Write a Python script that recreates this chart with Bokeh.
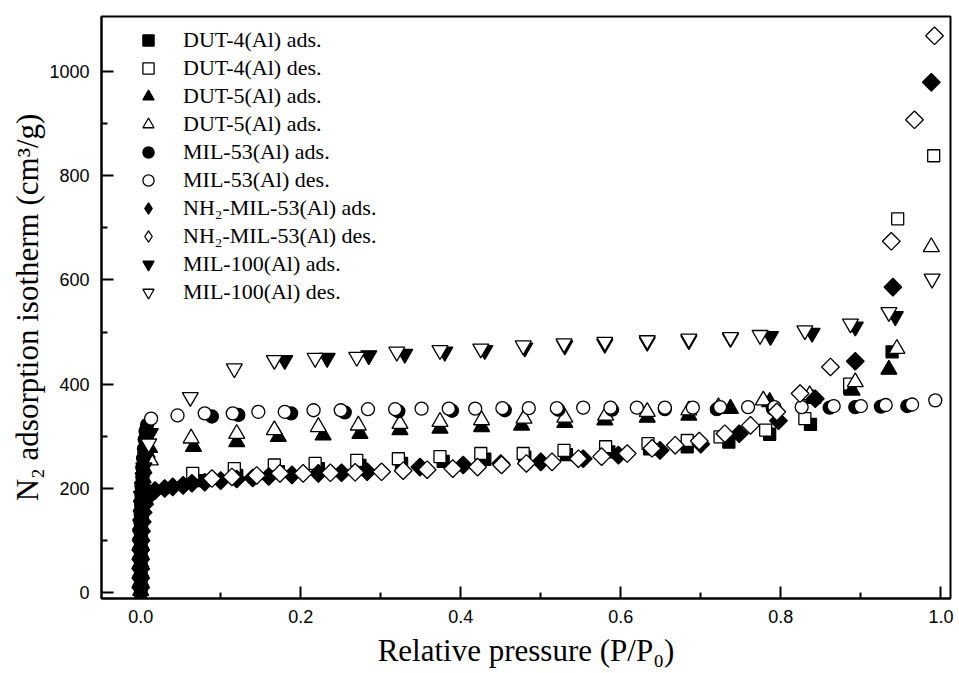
import math
from bokeh.plotting import figure
from bokeh.models import FixedTicker, PrintfTickFormatter, Legend, LegendItem, Range1d
from bokeh.embed import file_html
from bokeh.resources import INLINE

# ---------------- data ----------------
dut4_ads_x = [0.0, 0.0, 0.0, 0.0, 0.0, 0.0, 0.0005, 0.001, 0.002, 0.003, 0.005, 0.008,
              0.07, 0.12, 0.172, 0.222, 0.274, 0.326, 0.378, 0.43, 0.48, 0.532, 0.585, 0.636,
              0.683, 0.735, 0.786, 0.837, 0.886, 0.939]
dut4_ads_y = [3, 20, 38, 56, 74, 92, 110, 128, 146, 163, 178, 190,
              215, 225, 232, 238, 244, 248, 252, 256, 260, 265, 270, 276,
              280, 289, 304, 323, 393, 462]

dut4_des_x = [0.065, 0.117, 0.167, 0.218, 0.27, 0.322, 0.374, 0.425, 0.478, 0.529, 0.581, 0.634,
              0.683, 0.724, 0.781, 0.83, 0.886, 0.946, 0.991]
dut4_des_y = [229, 238, 245, 248, 254, 257, 261, 267, 267, 273, 280, 286,
              292, 299, 312, 334, 400, 717, 838]

dut5_ads_x = [0.0, 0.0, 0.0, 0.0, 0.0, 0.0, 0.0, 0.0, 0.0005, 0.001, 0.001, 0.002, 0.003, 0.004,
              0.006, 0.008, 0.011,
              0.066, 0.12, 0.172, 0.228, 0.274, 0.324, 0.374, 0.426, 0.476, 0.53, 0.58, 0.633,
              0.685, 0.737, 0.786, 0.84, 0.889, 0.935]
dut5_ads_y = [4, 22, 40, 58, 76, 94, 112, 130, 148, 166, 184, 202, 220, 238,
              255, 268, 278,
              280, 289, 299, 302, 305, 312, 315, 318, 321, 326, 331, 336,
              340, 353, 366, 372, 388, 428]

dut5_des_x = [0.012, 0.063, 0.12, 0.167, 0.222, 0.272, 0.324, 0.374, 0.426, 0.479, 0.53, 0.581,
              0.633, 0.685, 0.722, 0.778, 0.836, 0.893, 0.945, 0.988]
dut5_des_y = [254, 296, 305, 312, 318, 321, 324, 328, 331, 334, 336, 340,
              347, 350, 356, 369, 379, 404, 468, 663]

mil53_ads_x = [0.0, 0.0, 0.0, 0.0, 0.0, 0.0, 0.0, 0.0, 0.0, 0.0005, 0.001, 0.001, 0.002, 0.002,
               0.003, 0.004, 0.005, 0.006, 0.008,
               0.089, 0.122, 0.188, 0.255, 0.322, 0.389, 0.455, 0.522, 0.589, 0.655, 0.72,
               0.79, 0.861, 0.893, 0.925, 0.958]
mil53_ads_y = [6, 24, 42, 60, 78, 96, 114, 132, 150, 168, 186, 204, 222, 240,
               258, 276, 294, 310, 322,
               338, 341, 344, 346, 348, 349, 350, 351, 351, 352, 352,
               353, 355, 356, 357, 358]

mil53_des_x = [0.013, 0.046, 0.08, 0.115, 0.147, 0.18, 0.216, 0.25, 0.284, 0.318, 0.351, 0.385,
               0.418, 0.452, 0.485, 0.52, 0.553, 0.587, 0.62, 0.655, 0.69, 0.724, 0.759, 0.792,
               0.826, 0.866, 0.9, 0.931, 0.964, 0.993]
mil53_des_y = [334, 340, 344, 344, 347, 347, 350, 350, 352, 352, 353, 353,
               353, 354, 354, 354, 355, 355, 355, 355, 355, 356, 356, 356,
               356, 358, 358, 360, 361, 369]

nh2_ads_x = [0.0, 0.0, 0.0, 0.0, 0.0, 0.0005, 0.001, 0.002, 0.003, 0.005, 0.008, 0.012,
             0.018, 0.03, 0.04, 0.053, 0.064, 0.08, 0.1, 0.12, 0.14, 0.16, 0.189, 0.222,
             0.251, 0.283, 0.349, 0.403, 0.45, 0.5, 0.553, 0.597, 0.649, 0.7, 0.748, 0.797,
             0.843, 0.893, 0.94, 0.988]
nh2_ads_y = [10, 28, 46, 64, 82, 100, 118, 136, 154, 170, 182, 190,
             196, 200, 203, 206, 210, 212, 215, 218, 220, 223, 226, 229,
             230, 232, 241, 245, 248, 251, 257, 264, 273, 285, 305, 330,
             372, 444, 586, 979]

nh2_des_x = [0.089, 0.114, 0.145, 0.174, 0.203, 0.237, 0.268, 0.301, 0.328, 0.358, 0.39, 0.421,
             0.451, 0.482, 0.514, 0.547, 0.576, 0.608, 0.639, 0.668, 0.698, 0.73, 0.762, 0.795,
             0.824, 0.862, 0.938, 0.967, 0.992]
nh2_des_y = [219, 222, 225, 229, 229, 230, 231, 232, 234, 236, 238, 241,
             245, 248, 251, 257, 261, 267, 277, 283, 291, 305, 321, 347,
             382, 433, 674, 907, 1068]

mil100_ads_x = [0.0, 0.0, 0.0, 0.0, 0.0, 0.0, 0.0, 0.0, 0.0005, 0.001, 0.001, 0.002, 0.003, 0.004,
                0.006, 0.008, 0.012,
                0.18, 0.233, 0.285, 0.33, 0.38, 0.43, 0.48, 0.53, 0.58, 0.633, 0.685, 0.737,
                0.787, 0.839, 0.893, 0.943]
mil100_ads_y = [5, 23, 41, 59, 77, 95, 113, 131, 149, 167, 185, 203, 221, 240,
                260, 282, 306,
                446, 450, 455, 458, 462, 465, 470, 474, 477, 481, 484, 488,
                492, 498, 510, 530]

mil100_des_x = [0.01, 0.062, 0.117, 0.167, 0.218, 0.27, 0.32, 0.374, 0.425, 0.478, 0.529, 0.58,
                0.633, 0.685, 0.737, 0.774, 0.83, 0.887, 0.935, 0.989]
mil100_des_y = [286, 375, 430, 446, 450, 452, 462, 465, 468, 474, 478, 481,
                484, 487, 490, 494, 503, 516, 538, 602]

labels = ["DUT-4(Al) ads.", "DUT-4(Al) des.", "DUT-5(Al) ads.", "DUT-5(Al) ads.",
          "MIL-53(Al) ads.", "MIL-53(Al) des.", "NH\u2082-MIL-53(Al) ads.", "NH\u2082-MIL-53(Al) des.",
          "MIL-100(Al) ads.", "MIL-100(Al) des."]

x_ticks = [0.0, 0.2, 0.4, 0.6, 0.8, 1.0]
x_minor = [0.1, 0.3, 0.5, 0.7, 0.9]
y_ticks = [0, 200, 400, 600, 800, 1000]
y_minor = [100, 300, 500, 700, 900]

# ---------------- figure ----------------
p = figure(width=959, height=673, output_backend="svg", toolbar_location=None,
           x_range=Range1d(-0.049, 1.012), y_range=Range1d(-11, 1105),
           min_border_left=101, min_border_right=9, min_border_top=16, min_border_bottom=75)
# a range far from the data: renderers bound to it draw only their legend glyph
p.extra_x_ranges = {"legend_only": Range1d(50, 51)}

p.xgrid.visible = False
p.ygrid.visible = False
p.outline_line_color = "black"
p.outline_line_width = 2
p.outline_line_alpha = 1.0
p.background_fill_color = "white"

p.xaxis.ticker = FixedTicker(ticks=x_ticks, minor_ticks=x_minor)
p.yaxis.ticker = FixedTicker(ticks=y_ticks, minor_ticks=y_minor)
p.xaxis.formatter = PrintfTickFormatter(format="%.1f")
p.xaxis.axis_label = "Relative pressure (P/P\u2080)"
p.yaxis.axis_label = "N\u2082 adsorption isotherm (cm\u00b3/g)"

for ax in (p.xaxis[0], p.yaxis[0]):
    ax.axis_line_width = 2
    ax.axis_line_color = "black"
    ax.major_tick_in = 12
    ax.major_tick_out = 0
    ax.minor_tick_in = 6
    ax.minor_tick_out = 0
    ax.major_tick_line_width = 2
    ax.minor_tick_line_width = 2
    ax.major_tick_line_color = "black"
    ax.minor_tick_line_color = "black"
    ax.major_label_text_font = "Liberation Sans"
    ax.major_label_text_font_size = "18px"
    ax.major_label_text_color = "black"
    ax.axis_label_text_font = "Liberation Serif"
    ax.axis_label_text_font_size = "31px"
    ax.axis_label_text_font_style = "normal"
    ax.axis_label_text_color = "black"

p.xaxis.major_label_standoff = 11
p.xaxis.axis_label_standoff = 7
p.yaxis.major_label_standoff = 12
p.yaxis.axis_label_standoff = 1

LW = 1.3
DIAMOND_ANGLE = math.pi / 4

def pts(x, y, marker, fill, size, angle=0.0):
    return p.scatter(x, y, marker=marker, size=size, angle=angle,
                     fill_color=fill, line_color="black", line_width=LW)

r1 = pts(dut4_ads_x, dut4_ads_y, "square", "black", 12)
r2 = pts(dut4_des_x, dut4_des_y, "square", "white", 12)
r3 = pts(dut5_ads_x, dut5_ads_y, "triangle", "black", 16)
r4 = pts(dut5_des_x, dut5_des_y, "triangle", "white", 16)
r5 = pts(mil53_ads_x, mil53_ads_y, "circle", "black", 13)
r6 = pts(mil53_des_x, mil53_des_y, "circle", "white", 13)
r7 = pts(nh2_ads_x, nh2_ads_y, "square", "black", 12.5, DIAMOND_ANGLE)
r8 = pts(nh2_des_x, nh2_des_y, "square", "white", 12.5, DIAMOND_ANGLE)
r9 = pts(mil100_ads_x, mil100_ads_y, "inverted_triangle", "black", 16)
r10 = pts(mil100_des_x, mil100_des_y, "inverted_triangle", "white", 16)

# legend glyphs for the diamonds (the legend ignores a glyph's angle)
d_ads = p.scatter(nh2_ads_x, nh2_ads_y, x_range_name="legend_only", marker="diamond", size=12,
                  fill_color="black", line_color="black", line_width=LW)
d_des = p.scatter(nh2_des_x, nh2_des_y, x_range_name="legend_only", marker="diamond", size=12,
                  fill_color="white", line_color="black", line_width=LW)

rends = [r1, r2, r3, r4, r5, r6, d_ads, d_des, r9, r10]
items = [LegendItem(label=lab, renderers=[r]) for lab, r in zip(labels, rends)]
legend = Legend(items=items, location=(32, 292), glyph_width=30, glyph_height=28,
                label_height=28, spacing=0, padding=0, margin=0, label_standoff=20,
                border_line_alpha=0, background_fill_alpha=0,
                label_text_font="Liberation Serif", label_text_font_size="22px",
                label_text_color="black")
p.add_layout(legend)

open("out.html", "w").write(file_html(p, INLINE))
